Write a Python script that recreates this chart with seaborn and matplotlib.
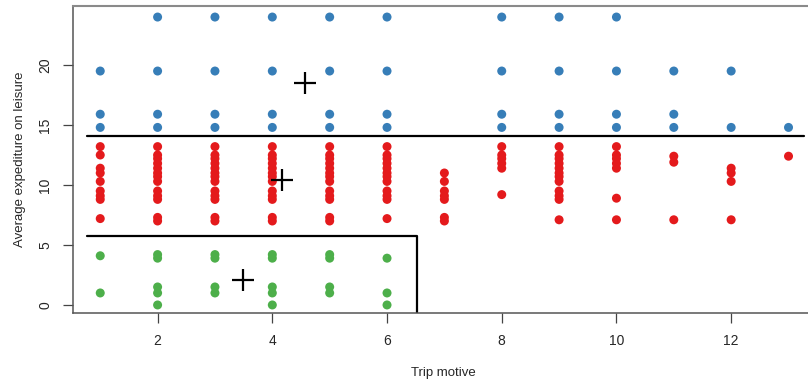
"""
Trip motive vs average expenditure on leisure, coloured by cluster,
with cluster centroids and hand-drawn partition lines.
"""

import matplotlib
matplotlib.use("Agg")
import matplotlib.pyplot as plt
import pandas as pd
import seaborn as sns

# --- data --------------------------------------------------------------
# cluster "high" (blue): trip motive -> expenditure levels
BLUE_POINTS = {
    1: [19.5, 15.9, 14.8],
    2: [24.0, 19.5, 15.9, 14.8],
    3: [24.0, 19.5, 15.9, 14.8],
    4: [24.0, 19.5, 15.9, 14.8],
    5: [24.0, 19.5, 15.9, 14.8],
    6: [24.0, 19.5, 15.9, 14.8],
    8: [24.0, 19.5, 15.9, 14.8],
    9: [24.0, 19.5, 15.9, 14.8],
    10: [24.0, 19.5, 15.9, 14.8],
    11: [19.5, 15.9, 14.8],
    12: [19.5, 14.8],
    13: [14.8],
}

# cluster "middle" (red)
RED_POINTS = {
    1: [13.2, 12.5, 11.4, 11.0, 10.3, 9.5, 9.1, 8.8, 7.2],
    2: [13.2, 12.5, 12.2, 11.8, 11.4, 11.0, 10.7, 10.3, 9.5, 9.1, 8.8, 7.3, 7.0],
    3: [13.2, 12.5, 12.2, 11.8, 11.4, 11.0, 10.7, 10.3, 9.5, 9.1, 8.8, 7.3, 7.0],
    4: [13.2, 12.5, 12.2, 11.8, 11.4, 11.0, 10.7, 10.3, 9.5, 9.1, 8.8, 7.3, 7.0],
    5: [13.2, 12.5, 12.2, 11.8, 11.4, 11.0, 10.7, 10.3, 9.5, 9.1, 8.8, 7.3, 7.0],
    6: [13.2, 12.5, 12.2, 11.8, 11.4, 11.0, 10.7, 10.3, 9.5, 9.1, 8.8, 7.2],
    7: [11.0, 10.3, 9.5, 9.1, 8.8, 7.3, 7.0],
    8: [13.2, 12.5, 12.2, 11.8, 11.4, 9.2],
    9: [13.2, 12.5, 12.2, 11.8, 11.4, 11.0, 10.7, 10.3, 9.5, 9.1, 8.8, 7.1],
    10: [13.2, 12.5, 12.2, 11.8, 11.4, 8.9, 7.1],
    11: [12.4, 11.9, 7.1],
    12: [11.4, 11.0, 10.3, 7.1],
    13: [12.4],
}

# cluster "low" (green)
GREEN_POINTS = {
    1: [4.1, 1.0],
    2: [4.2, 3.9, 1.5, 1.0, 0.0],
    3: [4.2, 3.9, 1.5, 1.0],
    4: [4.2, 3.9, 1.5, 1.0, 0.0],
    5: [4.2, 3.9, 1.5, 1.0],
    6: [3.9, 1.0, 0.0],
}

# centroids (black crosses)
CENTROID_X = [4.57, 4.17, 3.49]
CENTROID_Y = [18.5, 10.42, 2.08]

# partition lines
UPPER_LINE_X = [0.77, 13.27]
UPPER_LINE_Y = [14.05, 14.05]
LOWER_LINE_X = [0.77, 6.52, 6.52]
LOWER_LINE_Y = [5.75, 5.75, -0.65]

CLUSTER_COLOURS = {"high": "#377EB8", "middle": "#E41A1C", "low": "#4DAF4A"}

X_TICKS = [2, 4, 6, 8, 10, 12]
Y_TICKS = [0, 5, 10, 15, 20]


def _to_frame(points: dict, label: str) -> pd.DataFrame:
    rows = [(x, y, label) for x, ys in points.items() for y in ys]
    return pd.DataFrame(rows, columns=["motive", "expenditure", "cluster"])


df = pd.concat([
    _to_frame(BLUE_POINTS, "high"),
    _to_frame(RED_POINTS, "middle"),
    _to_frame(GREEN_POINTS, "low"),
], ignore_index=True)

sns.set_style("white")
plt.rcParams["font.family"] = ["Liberation Sans", "DejaVu Sans"]

fig = plt.figure(figsize=(8.08, 3.88), dpi=100)
ax = fig.add_axes([0.0907, 0.1933, 0.915, 0.7912])

sns.scatterplot(
    data=df, x="motive", y="expenditure", hue="cluster",
    palette=CLUSTER_COLOURS, s=42, linewidth=0, legend=False, ax=ax,
)

ax.plot(CENTROID_X, CENTROID_Y, linestyle="none", marker="+",
        markersize=16, markeredgewidth=1.6, color="black")
ax.plot(UPPER_LINE_X, UPPER_LINE_Y, color="black", linewidth=1.6)
ax.plot(LOWER_LINE_X, LOWER_LINE_Y, color="black", linewidth=1.6)

ax.set_xlim(0.53, 13.42)
ax.set_ylim(-0.67, 24.92)
ax.set_xticks(X_TICKS)
ax.set_yticks(Y_TICKS)
ax.tick_params(axis="both", direction="out", length=7, width=0.9,
               color="#444444", labelsize=10, pad=8, left=True, bottom=True)
for lbl in ax.get_yticklabels():
    lbl.set_rotation(90)
    lbl.set_va("center")

ax.set_xlabel("Trip motive", fontsize=9.5, labelpad=14)
ax.set_ylabel("Average expediture on leisure", fontsize=9.5, labelpad=9)

for side in ["left", "bottom"]:
    ax.spines[side].set_color("#555555")
    ax.spines[side].set_linewidth(1.1)
ax.spines["top"].set_color("#8a8a8a")
ax.spines["top"].set_linewidth(1.5)
ax.spines["right"].set_visible(False)

fig.savefig("out.png", dpi=100)
plt.close(fig)
